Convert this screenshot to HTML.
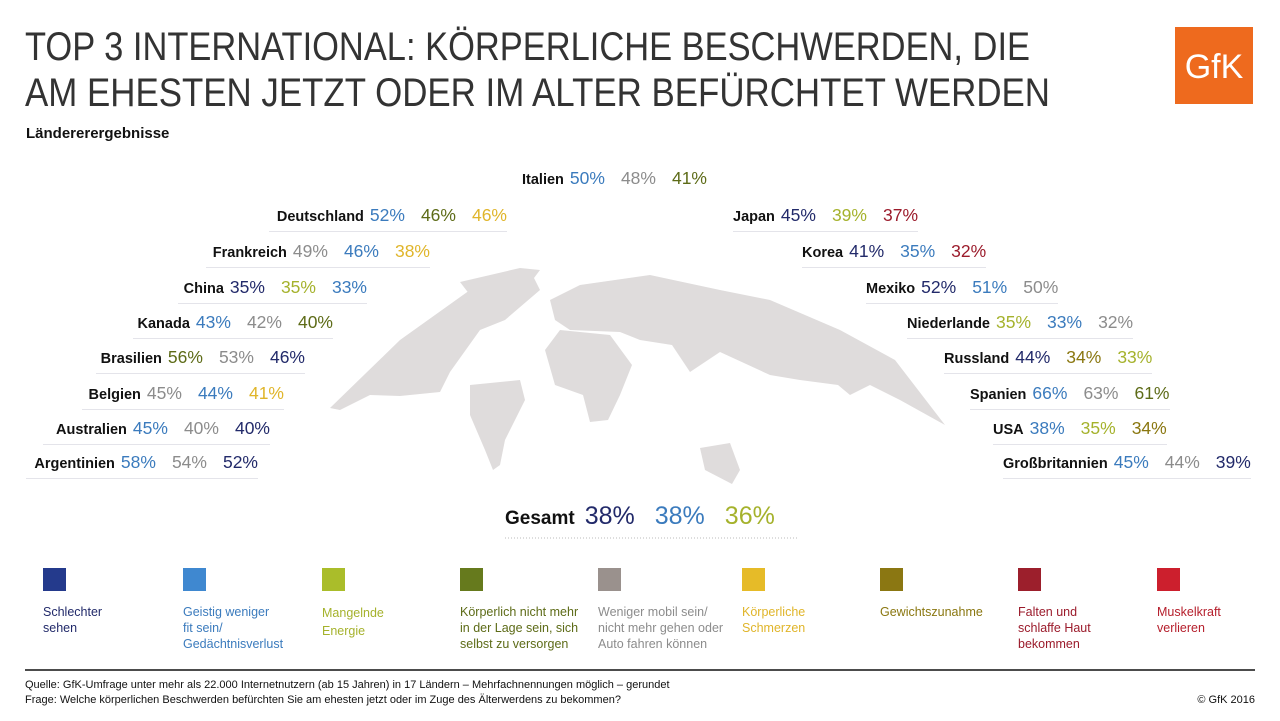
<!DOCTYPE html>
<html><head><meta charset="utf-8"><style>
*{margin:0;padding:0;box-sizing:border-box}
body{width:1280px;height:721px;background:#fff;position:relative;overflow:hidden;font-family:"Liberation Sans",sans-serif}
.row{position:absolute;display:flex;align-items:baseline;white-space:nowrap;border-bottom:1px solid #e4e4ea;padding-bottom:4px;height:27px}
.row b{font-size:14.5px;color:#111;font-weight:bold;margin-right:6px}
.row span{font-size:17.5px;margin-right:16px}
.row span:last-child{margin-right:0}
.L{justify-content:flex-end}
.db{color:#222a6a}.lb{color:#3b7bbd}.li{color:#a5b22c}.ol{color:#5d6b17}.gr{color:#8c8c8c}.ye{color:#e0b52a}.br{color:#8a7710}.dr{color:#9b1b2b}
.sq{position:absolute;top:568px;width:23px;height:23px}
.lt{position:absolute;top:604px;font-size:12.5px;line-height:16px}
.ft{position:absolute;left:25px;font-size:11px;color:#111}
</style></head><body>
<svg width="1280" height="721" style="position:absolute;left:0;top:0">
<text x="25" y="60" font-size="40" fill="#333" font-family="Liberation Sans" textLength="1005" lengthAdjust="spacingAndGlyphs">TOP 3 INTERNATIONAL: KÖRPERLICHE BESCHWERDEN, DIE</text>
<text x="25" y="106" font-size="40" fill="#333" font-family="Liberation Sans" textLength="1025" lengthAdjust="spacingAndGlyphs">AM EHESTEN JETZT ODER IM ALTER BEFÜRCHTET WERDEN</text>
<rect x="1175" y="27" width="78" height="77" fill="#ee6a1e"/>
<text x="1214" y="78" font-size="34" fill="#fff" text-anchor="middle" font-family="Liberation Sans">GfK</text>
<g fill="#dfdcdc">
<polygon points="330,408 400,340 470,290 530,270 540,290 505,320 480,330 450,372 440,392 400,396 370,395 340,410"/>
<polygon points="460,282 520,268 540,270 525,290 490,300 470,295"/>
<polygon points="470,385 520,380 525,400 505,440 500,465 493,470 485,450 470,415"/>
<polygon points="545,350 560,330 610,335 632,365 620,395 608,420 590,422 583,395 555,385"/>
<polygon points="550,300 580,285 650,275 720,290 770,300 840,330 895,360 945,425 900,400 870,385 850,395 838,385 800,380 770,375 720,352 690,372 672,345 640,340 620,332 570,330 555,320"/>
<polygon points="700,448 730,443 740,470 732,484 705,470"/>
</g>
<line x1="505" y1="538" x2="797" y2="538" stroke="#bbb" stroke-dasharray="1,2"/>
<line x1="25" y1="670" x2="1255" y2="670" stroke="#111" stroke-width="1.5"/>
</svg>
<div style="position:absolute;left:26px;top:125px;font-size:15px;font-weight:bold;color:#111">Ländererergebnisse</div>

<div class="row" style="left:522px;top:168px;border:none"><b>Italien</b><span class="lb">50%</span><span class="gr">48%</span><span class="ol">41%</span></div>
<div class="row L" style="right:773px;top:205px;left:269px"><b>Deutschland</b><span class="lb">52%</span><span class="ol">46%</span><span class="ye">46%</span></div>
<div class="row L" style="right:850px;top:241px;left:206px"><b>Frankreich</b><span class="gr">49%</span><span class="lb">46%</span><span class="ye">38%</span></div>
<div class="row L" style="right:913px;top:277px;left:178px"><b>China</b><span class="db">35%</span><span class="li">35%</span><span class="lb">33%</span></div>
<div class="row L" style="right:947px;top:312px;left:133px"><b>Kanada</b><span class="lb">43%</span><span class="gr">42%</span><span class="ol">40%</span></div>
<div class="row L" style="right:975px;top:347px;left:96px"><b>Brasilien</b><span class="ol">56%</span><span class="gr">53%</span><span class="db">46%</span></div>
<div class="row L" style="right:996px;top:383px;left:82px"><b>Belgien</b><span class="gr">45%</span><span class="lb">44%</span><span class="ye">41%</span></div>
<div class="row L" style="right:1010px;top:418px;left:43px"><b>Australien</b><span class="lb">45%</span><span class="gr">40%</span><span class="db">40%</span></div>
<div class="row L" style="right:1022px;top:452px;left:26px"><b>Argentinien</b><span class="lb">58%</span><span class="gr">54%</span><span class="db">52%</span></div>

<div class="row" style="left:733px;top:205px"><b>Japan</b><span class="db">45%</span><span class="li">39%</span><span class="dr">37%</span></div>
<div class="row" style="left:802px;top:241px"><b>Korea</b><span class="db">41%</span><span class="lb">35%</span><span class="dr">32%</span></div>
<div class="row" style="left:866px;top:277px"><b>Mexiko</b><span class="db">52%</span><span class="lb">51%</span><span class="gr">50%</span></div>
<div class="row" style="left:907px;top:312px"><b>Niederlande</b><span class="li">35%</span><span class="lb">33%</span><span class="gr">32%</span></div>
<div class="row" style="left:944px;top:347px"><b>Russland</b><span class="db">44%</span><span class="br">34%</span><span class="li">33%</span></div>
<div class="row" style="left:970px;top:383px"><b>Spanien</b><span class="lb">66%</span><span class="gr">63%</span><span class="ol">61%</span></div>
<div class="row" style="left:993px;top:418px"><b>USA</b><span class="lb">38%</span><span class="li">35%</span><span class="br">34%</span></div>
<div class="row" style="left:1003px;top:452px"><b>Großbritannien</b><span class="lb">45%</span><span class="gr">44%</span><span class="db">39%</span></div>

<div style="position:absolute;left:505px;top:502px;white-space:nowrap;display:flex;align-items:baseline">
<b style="font-size:19px;color:#111;margin-right:10px">Gesamt</b><span class="db" style="font-size:25px;margin-right:20px">38%</span><span class="lb" style="font-size:25px;margin-right:20px">38%</span><span class="li" style="font-size:25px">36%</span></div>

<div class="sq" style="left:43px;background:#243a8c"></div>
<div class="sq" style="left:183px;background:#3f88d0"></div>
<div class="sq" style="left:322px;background:#aabd2a"></div>
<div class="sq" style="left:460px;background:#667a1d"></div>
<div class="sq" style="left:598px;background:#9a918d"></div>
<div class="sq" style="left:742px;background:#e6bb28"></div>
<div class="sq" style="left:880px;background:#8b7712"></div>
<div class="sq" style="left:1018px;background:#9c1f2c"></div>
<div class="sq" style="left:1157px;background:#cc1f2d"></div>
<div class="lt db" style="left:43px">Schlechter<br>sehen</div>
<div class="lt lb" style="left:183px">Geistig weniger<br>fit sein/<br>Gedächtnisverlust</div>
<div class="lt li" style="left:322px;top:604px;line-height:18px">Mangelnde<br>Energie</div>
<div class="lt ol" style="left:460px">Körperlich nicht mehr<br>in der Lage sein, sich<br>selbst zu versorgen</div>
<div class="lt gr" style="left:598px">Weniger mobil sein/<br>nicht mehr gehen oder<br>Auto fahren können</div>
<div class="lt ye" style="left:742px">Körperliche<br>Schmerzen</div>
<div class="lt br" style="left:880px">Gewichtszunahme</div>
<div class="lt dr" style="left:1018px">Falten und<br>schlaffe Haut<br>bekommen</div>
<div class="lt" style="left:1157px;color:#b51e2b">Muskelkraft<br>verlieren</div>

<div class="ft" style="top:679px">Quelle: GfK-Umfrage unter mehr als 22.000 Internetnutzern (ab 15 Jahren) in 17 Ländern – Mehrfachnennungen möglich – gerundet</div>
<div class="ft" style="top:694px">Frage: Welche körperlichen Beschwerden befürchten Sie am ehesten jetzt oder im Zuge des Älterwerdens zu bekommen?</div>
<div class="ft" style="top:694px;left:auto;right:25px">© GfK 2016</div>
</body></html>
